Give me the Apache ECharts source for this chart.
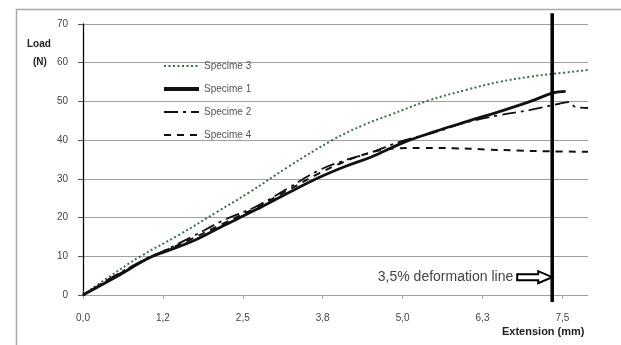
<!DOCTYPE html>
<html>
<head>
<meta charset="utf-8">
<script src="https://cdn.jsdelivr.net/npm/echarts@6/dist/echarts.min.js"></script>
<style>
  html, body { margin: 0; padding: 0; background: #fff; }
  #main { width: 621px; height: 345px; }
</style>
</head>
<body>
<div id="main"></div>
<script>
// tick positions and labels (the original rounds 1.25 steps oddly)
var xTickValues = [0, 1.25, 2.5, 3.75, 5, 6.25, 7.5];
var xTickLabels = ['0,0', '1,2', '2,5', '3,8', '5,0', '6,3', '7,5'];

var legendOrder = ['Specime 3', 'Specime 1', 'Specime 2', 'Specime 4'];

// [extension mm, load N]
var specime3 = [[0, 0], [0.4, 4.6], [0.9, 10], [1.5, 15.5], [2.1, 21.5], [2.6, 26.5], [3.2, 33],
    [3.9, 40], [4.4, 44], [4.8, 46.5], [5.4, 50.2], [6.0, 53], [6.5, 55], [7.0, 56.4], [7.35, 57.1], [7.9, 58.1]];
var specime1 = [[0, 0], [0.5, 4.5], [1.0, 9.3], [1.25, 11], [1.7, 13.8], [2.15, 17.5], [2.7, 22],
    [3.2, 26.3], [3.7, 30.4], [4.1, 33.2], [4.5, 35.6], [5.0, 39.3], [5.5, 42.2], [6.0, 44.8],
    [6.5, 47.3], [7.0, 50], [7.35, 52.2], [7.55, 52.6]];
var specime2 = [[0, 0], [0.5, 5], [1.0, 9.5], [1.25, 11.3], [1.7, 15], [2.2, 19.3], [2.7, 22.8],
    [3.2, 27.5], [3.7, 32.3], [4.1, 34.8], [4.5, 36.8], [5.0, 39.8], [5.5, 42], [6.0, 44.6],
    [6.5, 46.4], [7.0, 47.8], [7.45, 49.4], [7.6, 49.8], [7.7, 48.6], [7.9, 48.3]];
var specime4 = [[0, 0], [0.5, 4.8], [1.0, 9.4], [1.25, 11.2], [1.7, 14.5], [2.2, 18.5], [2.7, 22.5],
    [3.2, 27], [3.7, 31.5], [4.1, 34.5], [4.5, 36.8], [4.9, 37.9], [5.3, 38], [5.8, 37.9],
    [6.3, 37.6], [6.8, 37.3], [7.3, 37.1], [7.9, 37]];

var deformX = 7.34;
var deformLine = [[deformX, -1.8], [deformX, 72.8]];
var arrowAt = [deformX, 4.6];

var chart = echarts.init(document.getElementById('main'));

function lineSeries(name, data, color, width, type) {
    return {
        name: name, type: 'line', data: data, symbol: 'none', smooth: 0.4,
        lineStyle: {color: color, width: width, type: type},
        itemStyle: {color: color},
        animation: false
    };
}

chart.setOption({
    animation: false,
    textStyle: {fontFamily: 'Liberation Sans, Arial, sans-serif'},
    grid: {left: 83, top: 24, right: 33, bottom: 50},
    legend: {
        data: legendOrder.map(function (n) {
            return n === 'Specime 1' ? {name: n, lineStyle: {width: 4}} : {name: n};
        }),
        orient: 'vertical',
        left: 157, top: 56,
        itemWidth: 35, itemHeight: 10, itemGap: 13,
        itemStyle: {opacity: 0},
        textStyle: {fontSize: 10, color: '#555'}
    },
    xAxis: {
        type: 'value', min: 0, max: 7.9,
        axisLine: {lineStyle: {color: '#a0a0a0', width: 1}},
        axisTick: {show: true, length: 4, lineStyle: {color: '#aaa'}, customValues: xTickValues},
        axisLabel: {
            fontSize: 10, color: '#444', margin: 18,
            customValues: xTickValues,
            formatter: function (v) {
                var i = Math.round(v / 1.25);
                return xTickLabels[i] || '';
            }
        },
        splitLine: {show: false}
    },
    yAxis: {
        type: 'value', min: 0, max: 70, interval: 10,
        axisLine: {show: true, lineStyle: {color: '#000', width: 1.3}},
        axisTick: {show: true, length: 5, lineStyle: {color: '#555'}},
        axisLabel: {fontSize: 10, color: '#444', margin: 15},
        splitLine: {lineStyle: {color: '#a0a0a0', width: 1}}
    },
    series: [
        lineSeries('Specime 3', specime3, '#3c6e47', 2, [2, 2.5]),
        lineSeries('Specime 1', specime1, '#111', 2.8, 'solid'),
        lineSeries('Specime 2', specime2, '#111', 1.8, [14, 5, 3, 5]),
        lineSeries('Specime 4', specime4, '#111', 2, [7, 6]),
        {
            name: 'deformation', type: 'line', data: deformLine, symbol: 'none',
            clip: false, silent: true,
            lineStyle: {color: '#000', width: 3.5}
        }
    ]
});

var tip = chart.convertToPixel({gridIndex: 0}, arrowAt);
chart.setOption({
    graphic: [
        {
            type: 'rect', left: 14, top: 7, silent: true,
            shape: {width: 640, height: 360},
            style: {fill: 'none', stroke: '#a8a8a8', lineWidth: 1.5}
        },
        {
            type: 'text', left: 27, top: 39,
            style: {text: 'Load', font: 'bold 10px Liberation Sans, Arial', fill: '#222'}
        },
        {
            type: 'text', left: 33, top: 57,
            style: {text: '(N)', font: 'bold 10px Liberation Sans, Arial', fill: '#222'}
        },
        {
            type: 'text', left: 502, top: 326,
            style: {text: 'Extension (mm)', font: 'bold 11px Liberation Sans, Arial', fill: '#222'}
        },
        {
            type: 'text', x: tip[0] - 39, y: tip[1],
            style: {
                text: '3,5% deformation line', font: '14px Liberation Sans, Arial', fill: '#444',
                align: 'right', verticalAlign: 'middle'
            }
        },
        {
            type: 'polygon', x: tip[0], y: tip[1],
            shape: {points: [[-35, -3], [-14, -3], [-14, -6], [0, 0], [-14, 6], [-14, 3], [-35, 3]]},
            style: {fill: '#fff', stroke: '#000', lineWidth: 2}
        }
    ]
});
</script>
</body>
</html>
